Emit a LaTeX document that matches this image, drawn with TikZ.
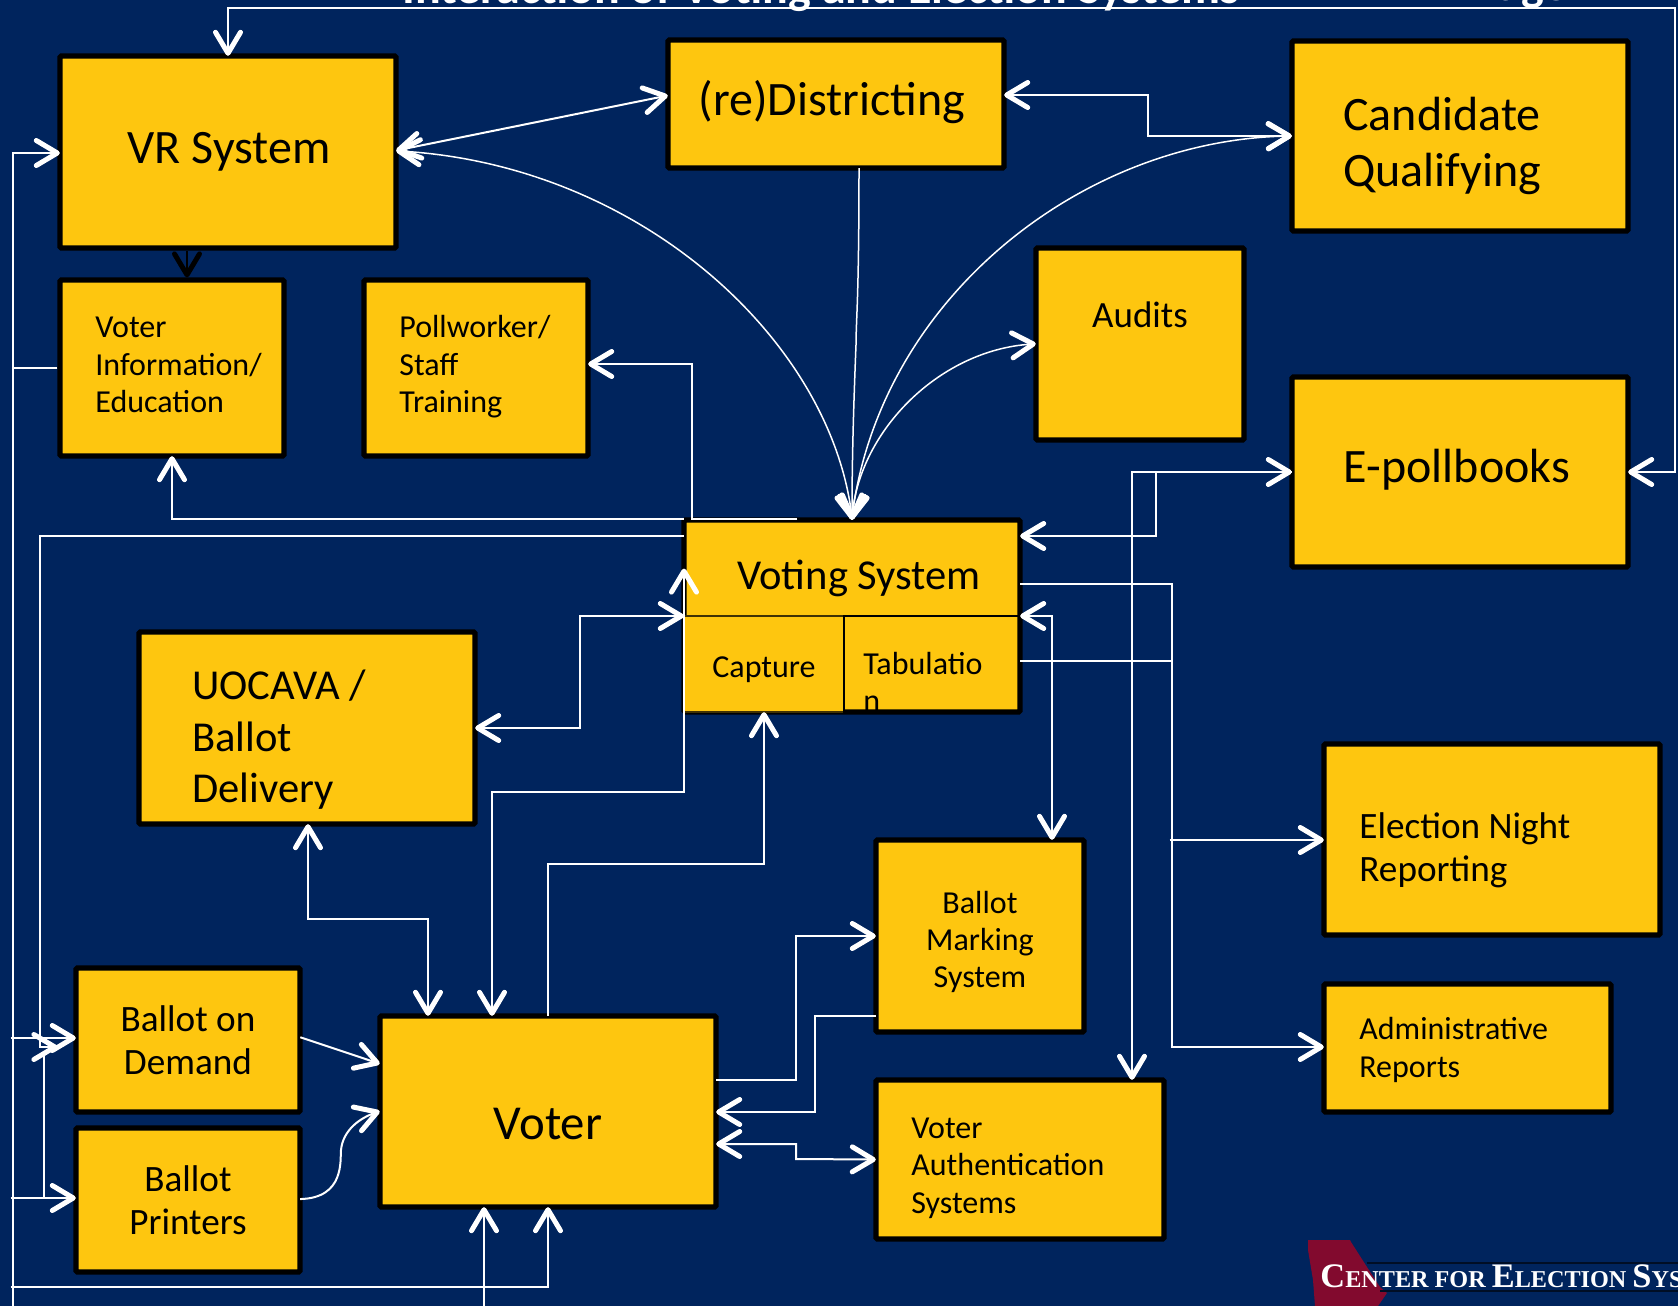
\documentclass[tikz,border=0pt]{standalone}
\usepackage{fontspec}
\setmainfont{Carlito}
\newfontfamily\logofont{Liberation Serif}
\usetikzlibrary{arrows.meta,calc}
\definecolor{navy}{HTML}{00245D}
\definecolor{gold}{HTML}{FEC60F}
\definecolor{crimson}{HTML}{820A2E}
\newcommand{\mybox}[6][]{%
  \pgfmathsetmacro{\cxx}{(#3+#5)/2}\pgfmathsetmacro{\cyy}{(#4+#6)/2}%
  \pgfmathsetmacro{\wdd}{(#5-#3)*0.5}\pgfmathsetmacro{\htt}{(#6-#4)*0.5}%
  \node[box,minimum width=\wdd pt,minimum height=\htt pt,#1] (#2) at (\cxx,\cyy) {};}
\newcommand{\fs}[2]{\fontsize{#1}{#2}\selectfont}
\tikzset{
  box/.style={draw=black,fill=gold,line width=2.6pt,inner sep=0pt,rounded corners=0.6pt},
  subbox/.style={line width=0.7pt,rounded corners=0pt},
  txt/.style={inner sep=0pt,text=black,align=left},
  ctxt/.style={inner sep=0pt,text=black,align=center},
  tipa/.tip={Straight Barb[length=10.5pt,width=12.5pt,line width=2.5pt,round]},
  wire/.style={draw=white,line width=1pt},
  one/.style={wire,-{tipa},shorten >=-1.2pt,shorten <=-1.2pt},
  two/.style={wire,{tipa}-{tipa},shorten >=-1.2pt,shorten <=-1.2pt},
}
\begin{document}
\begin{tikzpicture}[x=0.5pt,y=-0.5pt]
\useasboundingbox (0,0) rectangle (1678,1306);
\clip (0,0) rectangle (1678,1306);
\fill[navy] (0,0) rectangle (1678,1306);
% title, cut by the top edge
\node[anchor=base,inner sep=0pt,text=white,font=\fs{24}{28}\bfseries] (title) at (821,3.5) {Interaction of Voting and Election Systems};
\node[anchor=base,inner sep=0pt,text=white,font=\fs{24}{28}\bfseries] (titleb) at (1533,0.5) {age};
% boxes
\mybox{vr}{60}{56}{396}{248}
\mybox{redist}{668}{40}{1004}{168}
\mybox{cand}{1292}{41}{1628}{231}
\mybox{vinfo}{60}{280}{284}{456}
\mybox{poll}{364}{280}{588}{456}
\mybox{audits}{1036}{248}{1244}{440}
\mybox{epoll}{1292}{377}{1628}{567}
\mybox{voting}{684}{520}{1020}{712}
\mybox[subbox,draw=black!75!gold]{capture}{684}{616}{844}{712}
\mybox[subbox,fill=none]{tab}{844}{616}{1020}{712}
\mybox{uocava}{139}{632}{475}{824}
\mybox{night}{1324}{744}{1660}{935}
\mybox{admin}{1324}{984}{1611}{1112}
\mybox{bms}{876}{840}{1084}{1032}
\mybox{vauth}{876}{1080}{1164}{1239}
\mybox{bod}{76}{968}{300}{1112}
\mybox{printers}{76}{1128}{300}{1272}
\mybox{voter}{380}{1016}{716}{1207}
% texts
\node[ctxt,font=\fs{24}{28}] (vrT) at (229,152) {VR System};
\node[ctxt,font=\fs{24}{28}] (redistT) at (832,102) {(re)Districting};
\node[txt,anchor=west,font=\fs{24}{28}] (candT) at (1343,146) {Candidate\\Qualifying};
\node[ctxt,font=\fs{18.5}{21.4}] (auditsT) at (1140,315) {Audits};
\node[ctxt,font=\fs{24}{28}] (epollT) at (1457,470) {E-pollbooks};
\node[txt,anchor=west,font=\fs{16}{18.7}] (vinfoT) at (95,365) {Voter\\Information/\\Education};
\node[txt,anchor=west,font=\fs{16}{18.7}] (pollT) at (399,367) {Pollworker/\\Staff\\Training};
\node[ctxt,font=\fs{21.3}{24}] (votingT) at (859,578) {Voting System};
\node[ctxt,font=\fs{16}{18.7}] (captureT) at (764,670) {Capture};
\node[txt,anchor=west,font=\fs{16}{18.7}] (tabT) at (863,682) {Tabulatio\\n};
\node[txt,anchor=west,font=\fs{21.3}{25.7}] (uocavaT) at (192,740) {UOCAVA /\\Ballot\\Delivery};
\node[ctxt,font=\fs{18.6}{21.4}] (bodT) at (188,1040) {Ballot on\\Demand};
\node[ctxt,font=\fs{18.6}{21.4}] (printersT) at (188,1200) {Ballot\\Printers};
\node[ctxt,font=\fs{24.4}{28}] (voterT) at (548,1124) {Voter};
\node[ctxt,font=\fs{16}{18.7}] (bmsT) at (980,942) {Ballot\\Marking\\System};
\node[txt,anchor=west,font=\fs{16}{18.7}] (vauthT) at (911,1168) {Voter\\Authentication\\Systems};
\node[txt,anchor=west,font=\fs{18.6}{21.4}] (nightT) at (1359,850) {Election Night\\Reporting};
\node[txt,anchor=west,font=\fs{16}{18.7}] (adminT) at (1359,1050) {Administrative\\Reports};
% free ends
\coordinate (topL) at (228,8);
\coordinate (topR) at (1675,8);
\coordinate (leftbus) at (13,1306);
\coordinate (busY) at (13,1287);
\coordinate (voterIn) at (484,1306);
\coordinate (bodTip) at (55,1047);
\coordinate (bodRail) at (44,1052);
% connectors
\draw[two] (vr.north) -- (topL) -- (topR) |- (epoll.east);
\draw[two] (vr.east |- 0,150) -- (redist.west |- 0,96);
\draw[two] (redist.east |- 0,95) -- (1148,95) |- (cand.west |- 0,136);
\draw[two,line width=.75pt] (vr.east |- 0,151) .. controls (640,165) and (830,340) .. (voting.north);
\draw[two,line width=.75pt] (cand.west |- 0,136) .. controls (1080,140) and (880,300) .. (voting.north);
\draw[two,line width=.75pt] (audits.west) .. controls (940,350) and (860,430) .. (voting.north);
\draw[one,line width=.75pt] (redist.south -| 859,0) .. controls (859,300) and (856,320) .. (856,345) .. controls (853,420) and (852,470) .. (voting.north);
\draw[black,-{tipa},line width=1pt] (vr.south -| 187,0) -- (vinfo.north -| 187,0);
% voting to the upper left
\draw[one] (795,519) -- (692,519) |- (poll.east |- 0,364);
\draw[one] (voting.west |- 0,519) -| (vinfo.south -| 172,0);
% left rails
\draw[one] (voting.west |- 0,536) -| (40,1047) -- (bodTip);
\draw[wire] (bodRail) -- (44,1198);
\draw[one] (leftbus) |- (vr.west |- 0,153);
\draw[wire] (vinfo.west) -- (13,368);
\draw[one] (13,1038) -- (bod.west |- 0,1038);
\draw[one] (13,1198) -- (printers.west |- 0,1198);
\draw[one] (busY) -| (voter.south -| 548,0);
\draw[one] (voterIn) -- (voter.south -| 484,0);
% ballot boxes to voter
\draw[one] (bod.east |- 0,1038) -- (voter.west |- 0,1063);
\draw[one] (printers.east |- 0,1199) .. controls (345,1198) and (340,1160) .. (341,1150) .. controls (343,1130) and (360,1118) .. (voter.west |- 0,1112);
% uocava
\draw[two] (uocava.east) -- (580,728) |- (voting.west |- 0,616);
\draw[two] (uocava.south -| 308,0) |- (428,919) -- (voter.north -| 428,0);
% voter to voting
\draw[two] (voter.north -| 492,0) |- (684,792) -- (684,571);
\draw[one] (voter.north -| 548,0) |- (764,864) -- (voting.south -| 764,0);
% voter to right
\draw[one] (voter.east |- 0,1080) -| (796,936) -- (bms.west |- 0,936);
\draw[one] (bms.west |- 0,1016) -| (815,1112) -- (voter.east |- 0,1112);
\draw[two] (voter.east |- 0,1144) -| (796,1159) -- (vauth.west);
% voting to right
\draw[two] (voting.east |- 0,616) -| (bms.north -| 1052,0);
\draw[one] (voting.east |- 0,584) -| (1172,1047) -- (admin.west |- 0,1047);
\draw[wire,shorten <=-1.2pt] (voting.east |- 0,661) -- (1172,661);
\draw[one] (1172,840) -- (night.west |- 0,840);
\draw[two] (epoll.west |- 0,472) -| (vauth.north -| 1132,0);
\draw[one] (epoll.west |- 0,472) -| (1156,536) -- (voting.east |- 0,536);
% logo
\fill[crimson] (1308,1240) -- (1350,1240) -- (1351,1242) -- (1367,1267) -- (1380,1287) -- (1387,1293) -- (1378,1306) -- (1315,1306) -- (1313,1280) -- (1308,1250) -- cycle;
\draw[black!60!navy,line width=.7pt] (1367,1263) -- (1678,1263);
\draw[black!60!navy,line width=.7pt] (1380,1291) -- (1678,1291);
\node[anchor=base west,inner sep=0pt,text=white,font=\logofont\bfseries] (logo) at (1320,1287) {{\fs{17.2}{17}C}{\fs{12.1}{12}ENTER FOR }{\fs{17.2}{17}E}{\fs{12.1}{12}LECTION }{\fs{17.2}{17}S}{\fs{12.1}{12}YS}};
\end{tikzpicture}
\end{document}
